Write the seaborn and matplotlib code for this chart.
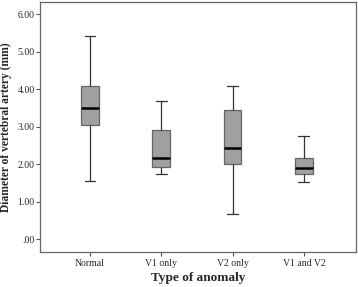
import matplotlib
matplotlib.use('agg')
import pandas as pd
import seaborn as sns
import matplotlib.pyplot as plt

X = "Type of anomaly"
Y = "Diameter of vertebral artery (mm)"

GROUPS = ["Normal", "V1 only", "V2 only", "V1 and V2"]
# five-number summaries: min, Q1, median, Q3, max
NORMAL = [1.56, 3.06, 3.49, 4.10, 5.42]
V1_ONLY = [1.73, 1.94, 2.16, 2.91, 3.70]
V2_ONLY = [0.68, 2.00, 2.44, 3.44, 4.10]
V1_V2 = [1.54, 1.74, 1.91, 2.16, 2.76]
YTICKS = [0, 1, 2, 3, 4, 5, 6]
YTICKLABELS = [".00", "1.00", "2.00", "3.00", "4.00", "5.00", "6.00"]


def create_data():
	frames = []
	for group, values in zip(GROUPS, [NORMAL, V1_ONLY, V2_ONLY, V1_V2]):
		frames.append(pd.DataFrame({X: group, Y: values}))
	return pd.concat(frames)


def main(output):
	df = create_data()

	sns.set_style("white")
	plt.rcParams['font.family'] = ['Liberation Serif', 'DejaVu Serif']

	fig = plt.figure(figsize=(3.58, 2.87), dpi=100)
	ax = fig.add_axes([0.112, 0.122, 0.882, 0.871])

	sns.boxplot(x=X, y=Y, data=df, order=GROUPS, ax=ax, whis=(0, 100), width=0.25,
				color="#a0a0a0", saturation=1, fliersize=0,
				boxprops=dict(edgecolor="#666666", linewidth=0.9),
				whiskerprops=dict(color="#333333", linewidth=0.9),
				capprops=dict(color="#333333", linewidth=0.9),
				medianprops=dict(color="black", linewidth=1.8))

	# whisker caps are a bit narrower than the boxes
	for line in ax.lines:
		xd = line.get_xdata()
		if len(xd) == 2 and xd[0] != xd[1] and line.get_ydata()[0] == line.get_ydata()[1]:
			if line.get_color() == "#333333":
				c = (xd[0] + xd[1]) / 2
				line.set_xdata([c - 0.075, c + 0.075])

	ax.set_xlim(-0.7, 3.73)
	ax.set_ylim(-0.34, 6.33)
	ax.set_yticks(YTICKS)
	ax.set_yticklabels(YTICKLABELS, fontsize=7)
	ax.tick_params(axis='x', labelsize=7, length=3, width=0.8, color="#555555", pad=2, direction='out')
	ax.tick_params(axis='y', length=3, width=0.8, color="#555555", pad=1, direction='out')
	ax.tick_params(bottom=True, left=True)

	for spine in ax.spines.values():
		spine.set_color("#666666")
		spine.set_linewidth(0.9)

	ax.set_xlabel(X, fontsize=9.5, fontweight='bold', labelpad=3)
	ax.set_ylabel(Y, fontsize=8.3, fontweight='bold', labelpad=4)

	fig.savefig(output, dpi=100)


if __name__ == "__main__":
	main("out.png")
